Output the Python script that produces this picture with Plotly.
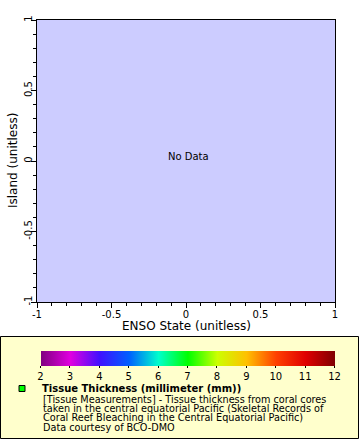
import numpy as np
import plotly.graph_objects as go

# ---- data ----
enso_state = [None]          # no data points
island = [None]
tissue_thickness = [np.nan]
cbar_min, cbar_max = 2, 12
cbar_ticks = [2, 3, 4, 5, 6, 7, 8, 9, 10, 11, 12]
cbar_colors = ["#800080", "#e000e0", "#4010ff", "#0060ff", "#00ffcc", "#00ff00",
               "#ccff00", "#ffc000", "#ff4000", "#e00000", "#800000"]
x_ticks = [-1, -0.5, 0, 0.5, 1]
y_ticks = [-1, -0.5, 0, 0.5, 1]
legend_title = "Tissue Thickness (millimeter (mm))"
legend_lines = [
    "[Tissue Measurements] - Tissue thickness from coral cores",
    "taken in the central equatorial Pacific (Skeletal Records of",
    "Coral Reef Bleaching in the Central Equatorial Pacific)",
    "Data courtesy of BCO-DMO",
]

W, H = 360, 440
L, R, T, B = 37, 335, 20, 302
FONT = "DejaVu Sans"

def px2x(px):
    return (px - L) / (R - L)

def py2y(py):
    return (B - py) / (B - T)

n = len(cbar_colors)
colorscale = [[i / (n - 1), c] for i, c in enumerate(cbar_colors)]

fig = go.Figure()

# colour bar carrier (no points)
fig.add_trace(go.Scatter(
    x=enso_state, y=island, mode="markers", showlegend=False,
    marker=dict(color=tissue_thickness, colorscale=colorscale, cmin=cbar_min, cmax=cbar_max,
                showscale=True,
                colorbar=dict(orientation="h", xref="container", yref="container",
                              x=49 / W, xanchor="left", y=(H - 351) / H, yanchor="top",
                              xpad=0, ypad=0,
                              lenmode="pixels", len=294, thickness=15,
                              outlinewidth=0, ticks="outside", ticklen=2,
                              tickcolor="black", tickvals=cbar_ticks,
                              ticklabeloverflow="allow",
                              tickfont=dict(family=FONT, size=10, color="black"))),
))

# legend entry
fig.add_trace(go.Scatter(
    x=[None], y=[None], mode="markers", name="<b>" + legend_title + "</b>",
    marker=dict(symbol="square", size=6, color="#00ff00", line=dict(color="black", width=1)),
))

fig.add_shape(type="rect", xref="paper", yref="paper",
              x0=px2x(0.5), x1=px2x(358.5), y0=py2y(336.5), y1=py2y(438.5),
              fillcolor="#ffffcc", line=dict(color="black", width=1), layer="below")

fig.add_annotation(x=0.02, y=0.03, text="No Data", showarrow=False,
                   font=dict(family=FONT, size=10, color="black"))

fig.add_annotation(xref="paper", yref="paper", x=px2x(13), y=0.5, text="Island (unitless)",
                   textangle=-90, showarrow=False, xanchor="center", yanchor="middle",
                   font=dict(family=FONT, size=12, color="black"))

fig.add_annotation(xref="paper", yref="paper", x=0.5, y=py2y(326), text="ENSO State (unitless)",
                   showarrow=False, xanchor="center", yanchor="middle",
                   font=dict(family=FONT, size=12, color="black"))

for i, line in enumerate(legend_lines):
    fig.add_annotation(xref="paper", yref="paper", x=px2x(41), y=py2y(399.5 + i * 9.2),
                       xanchor="left", yanchor="middle", text=line, showarrow=False,
                       font=dict(family=FONT, size=9.7, color="black"))

axis_common = dict(showline=True, linecolor="black", linewidth=1, mirror=True,
                   ticks="outside", ticklen=5, tickcolor="black", showgrid=False,
                   zeroline=False, tickfont=dict(family=FONT, size=10, color="black"),
                   minor=dict(dtick=0.1, ticks="outside", ticklen=3, tickcolor="black",
                              showgrid=False))

fig.update_xaxes(range=[-1, 1], tickvals=x_ticks, ticktext=[str(v) for v in x_ticks],
                 ticklabelstandoff=-2, **axis_common)
fig.update_yaxes(range=[-1, 1], tickvals=y_ticks, ticktext=[str(v) for v in y_ticks],
                 tickangle=-90, ticklabelstandoff=-5, **axis_common)

fig.update_layout(
    width=W, height=H,
    margin=dict(l=L, r=W - R, t=T, b=H - B, autoexpand=False),
    paper_bgcolor="white", plot_bgcolor="#ccccff",
    font=dict(family=FONT, color="black"),
    showlegend=True,
    legend=dict(xref="container", yref="container", x=2 / W, xanchor="left",
                y=(H - 374) / H, yanchor="top", bgcolor="rgba(0,0,0,0)",
                font=dict(family=FONT, size=10, color="black")),
)

fig.write_html("out.html", config={"displayModeBar": False},
               post_script="document.body.style.margin='0px';")
